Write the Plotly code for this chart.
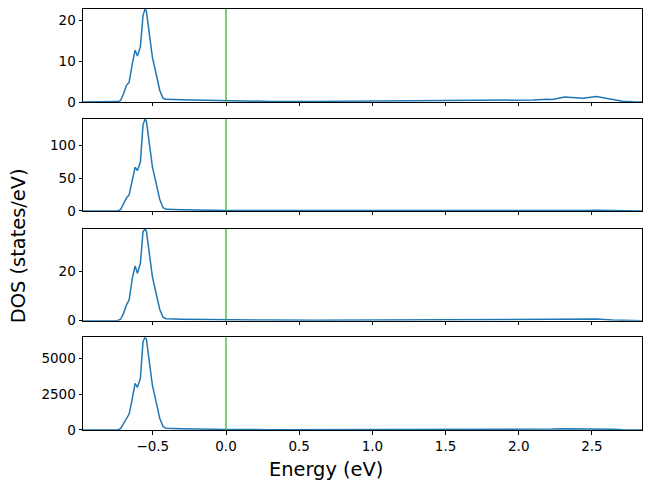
import plotly.graph_objects as go
from plotly.subplots import make_subplots

energy = [-0.977, -0.80, -0.74, -0.72, -0.70, -0.68, -0.662, -0.64, -0.621, -0.605,
          -0.585, -0.567, -0.553, -0.544, -0.526, -0.503, -0.475, -0.453, -0.43, -0.41,
          -0.30, -0.15, 0.0, 0.3, 0.6, 1.0, 1.2, 1.5, 1.8, 2.0,
          2.1, 2.19, 2.23, 2.314, 2.44, 2.53, 2.64, 2.71, 2.78, 2.842]

dos_1 = [0.0, 0.02, 0.1, 0.4, 2.0, 4.1, 4.8, 9.4, 12.7, 11.3,
         13.5, 21.2, 22.8, 22.3, 17.1, 11.0, 6.5, 2.9, 0.9, 0.65,
         0.55, 0.45, 0.3, 0.15, 0.15, 0.25, 0.3, 0.4, 0.55, 0.45,
         0.5, 0.7, 0.6, 1.2, 0.9, 1.35, 0.6, 0.2, 0.05, 0.02]

dos_2 = [0.0, 0.1, 0.5, 2.0, 12.0, 20.0, 24.5, 47.0, 67.0, 62.0,
         75.0, 132.0, 141.0, 138.0, 105.0, 68.0, 40.0, 18.0, 5.0, 2.5,
         1.8, 1.2, 0.8, 0.6, 0.5, 0.5, 0.6, 0.7, 0.8, 0.7,
         0.7, 0.9, 0.8, 1.0, 0.9, 1.2, 0.6, 0.2, 0.05, 0.02]

dos_3 = [0.0, 0.02, 0.1, 0.6, 3.0, 6.5, 8.4, 17.3, 22.3, 19.3,
         23.4, 36.3, 37.4, 36.6, 28.0, 18.0, 10.5, 4.7, 1.4, 0.8,
         0.6, 0.45, 0.35, 0.25, 0.2, 0.25, 0.3, 0.3, 0.35, 0.3,
         0.3, 0.4, 0.35, 0.6, 0.45, 0.65, 0.3, 0.1, 0.02, 0.01]

dos_4 = [0.0, 5.0, 20.0, 100.0, 450.0, 900.0, 1120.0, 2220.0, 3270.0, 2990.0,
         3620.0, 6190.0, 6500.0, 6380.0, 4900.0, 3150.0, 1850.0, 830.0, 250.0, 120.0,
         90.0, 60.0, 40.0, 25.0, 25.0, 35.0, 40.0, 50.0, 60.0, 55.0,
         55.0, 70.0, 65.0, 90.0, 80.0, 110.0, 50.0, 15.0, 4.0, 1.0]

series = [dos_1, dos_2, dos_3, dos_4]
fermi = 0.0

y_ticks = [[0, 10, 20], [0, 50, 100], [0, 20], [0, 2500, 5000]]
x_tickvals = [-0.5, 0.0, 0.5, 1.0, 1.5, 2.0, 2.5]
x_ticktext = ["\u22120.5", "0.0", "0.5", "1.0", "1.5", "2.0", "2.5"]

domains = [[0.7791, 1.0], [0.5202, 0.7387], [0.2596, 0.4774], [0.0, 0.2202]]

fig = make_subplots(rows=4, cols=1, shared_xaxes=True, vertical_spacing=0.04)

tick_font = dict(family="DejaVu Sans", size=13.5, color="black")

for i, ys in enumerate(series):
    r = i + 1
    fig.add_trace(go.Scatter(x=energy, y=ys, mode="lines",
                             line=dict(color="#1f77b4", width=1.5),
                             showlegend=False), row=r, col=1)
    fig.add_vline(x=fermi, line=dict(color="#22b022", width=1.2), row=r, col=1)
    fig.update_yaxes(range=[0, max(ys)], domain=domains[i], tickvals=y_ticks[i],
                     ticks="outside", ticklen=3.5, tickwidth=1, tickcolor="black",
                     showline=True, linecolor="black", linewidth=1, mirror=True,
                     showgrid=False, zeroline=False, tickfont=tick_font,
                     automargin=False, row=r, col=1)
    fig.update_xaxes(range=[energy[0], energy[-1]], tickvals=x_tickvals,
                     ticktext=x_ticktext, showticklabels=(r == 4),
                     ticks="outside", ticklen=3.5, tickwidth=1, tickcolor="black",
                     showline=True, linecolor="black", linewidth=1, mirror=True,
                     showgrid=False, zeroline=False, tickfont=tick_font,
                     automargin=False, row=r, col=1)

fig.add_annotation(text="DOS (states/eV)", xref="paper", yref="paper",
                   x=-0.1163, y=0.439, xanchor="center", yanchor="middle",
                   textangle=-90, showarrow=False,
                   font=dict(family="DejaVu Sans", size=19.4, color="black"))
fig.add_annotation(text="Energy (eV)", xref="paper", yref="paper",
                   x=0.4347, y=-0.095, xanchor="center", yanchor="middle",
                   showarrow=False,
                   font=dict(family="DejaVu Sans", size=19.4, color="black"))

fig.update_layout(width=651, height=491,
                  margin=dict(l=83, r=9, t=9, b=61, autoexpand=False),
                  plot_bgcolor="white", paper_bgcolor="white")

fig.write_html("out.html", config={"displayModeBar": False},
               post_script="document.body.style.margin='0';document.body.style.overflow='hidden';")
